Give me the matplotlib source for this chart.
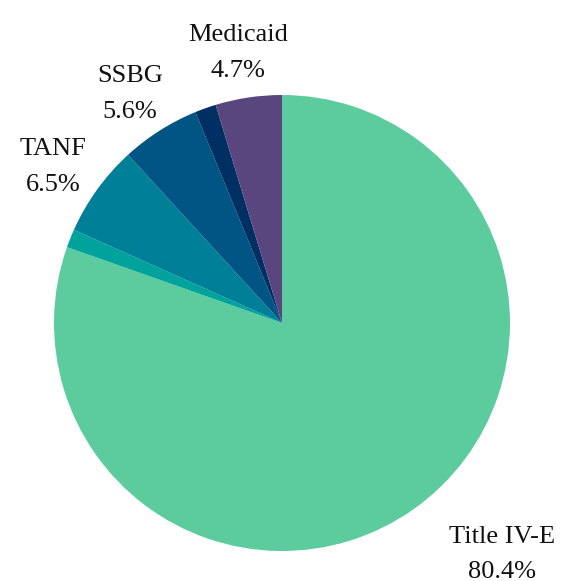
import matplotlib.pyplot as plt
import numpy as np

# funding shares, clockwise from 12 o'clock
sources = ['Title IV-E', 'Other 1', 'TANF', 'SSBG', 'Other 2', 'Medicaid']
shares = [80.4, 1.3, 6.5, 5.6, 1.5, 4.7]
show_label = [True, False, True, True, False, True]
colors = ['#5ccc9f', '#00a39b', '#007f99', '#005585', '#002f63', '#59467f']

plt.rcParams['font.family'] = ['Liberation Serif', 'DejaVu Serif']

W, H = 574, 581
cx, cy, r = 282, 323, 228  # pie centre / radius in pixels

fig = plt.figure(figsize=(W / 100, H / 100), dpi=100)
ax = fig.add_axes([0, 0, 1, 1])

wedges, _ = ax.pie(shares, colors=colors, startangle=90, counterclock=False,
                   wedgeprops={'linewidth': 0})

ax.set_xlim(-cx / r, (W - cx) / r)
ax.set_ylim(-(H - cy) / r, cy / r)
ax.set_aspect('equal')
ax.axis('off')

# label distance and angle nudge per slice
dist = {'Title IV-E': 1.40, 'TANF': 1.215, 'SSBG': 1.205, 'Medicaid': 1.20}
nudge = {'Title IV-E': 8.2, 'TANF': 1.5, 'SSBG': 1.2, 'Medicaid': 0.8}

for w, name, val, show in zip(wedges, sources, shares, show_label):
    if not show:
        continue
    ang = np.deg2rad((w.theta1 + w.theta2) / 2 + nudge[name])
    d = dist[name]
    ax.text(d * np.cos(ang), d * np.sin(ang), f'{name}\n{val}%',
            ha='center', va='center', fontsize=19, linespacing=1.8,
            color='#111111')

plt.savefig('out.png', dpi=100)
